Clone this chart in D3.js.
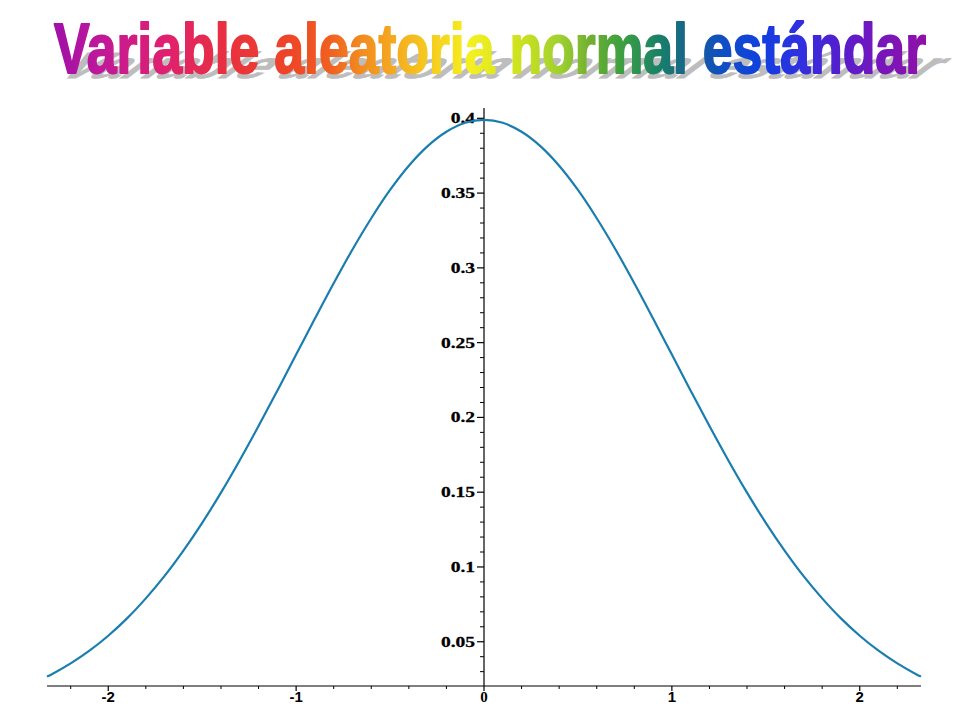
<!DOCTYPE html>
<html><head><meta charset="utf-8">
<script src="https://cdn.jsdelivr.net/npm/d3@7"></script>
<style>html,body{margin:0;padding:0;background:#fff;}svg{display:block;}</style>
</head><body>
<svg id="chart" width="960" height="720"></svg>
<script>
const titleText = "Variable aleatoria normal estándar";
// curve samples (x, density)
const xs = [-2.326,-2.3,-2.2,-2.1,-2.0,-1.9,-1.8,-1.7,-1.6,-1.5,-1.4,-1.3,-1.2,-1.1,-1.0,-0.9,-0.8,-0.7,-0.6,-0.5,-0.4,-0.3,-0.2,-0.1,0,
            0.1,0.2,0.3,0.4,0.5,0.6,0.7,0.8,0.9,1.0,1.1,1.2,1.3,1.4,1.5,1.6,1.7,1.8,1.9,2.0,2.1,2.2,2.3,2.326];
const ys = [0.0267,0.0283,0.0355,0.0440,0.0540,0.0656,0.0790,0.0940,0.1109,0.1295,0.1497,0.1714,0.1942,0.2179,0.2420,0.2661,0.2897,0.3123,0.3332,0.3521,0.3683,0.3814,0.3910,0.3970,0.3989,
            0.3970,0.3910,0.3814,0.3683,0.3521,0.3332,0.3123,0.2897,0.2661,0.2420,0.2179,0.1942,0.1714,0.1497,0.1295,0.1109,0.0940,0.0790,0.0656,0.0540,0.0440,0.0355,0.0283,0.0267];
const xTicks = [-2,-1,0,1,2];
const xTickLabels = ["-2","-1","0","1","2"];
const yTicks = [0.05,0.1,0.15,0.2,0.25,0.3,0.35,0.4];
const yTickLabels = ["0.05","0.1","0.15","0.2","0.25","0.3","0.35","0.4"];
const gradStops = [
  [55,"#a010a8"],[100,"#c0189a"],[165,"#e02070"],[225,"#e83040"],[290,"#ee4628"],[330,"#f06020"],
  [360,"#f28a20"],[400,"#f5b020"],[470,"#f5f020"],[525,"#c8e020"],[560,"#a0d030"],[590,"#70b030"],
  [620,"#40a040"],[660,"#188068"],[690,"#186090"],[720,"#1050c0"],[760,"#1040e0"],[800,"#3030e0"],
  [835,"#5020d0"],[870,"#7018c0"],[925,"#9010a8"]
];

const svg = d3.select("#chart");
const x = d3.scaleLinear().domain([-2.326, 2.326]).range([47, 921]);
const y = d3.scaleLinear().domain([0.0204, 0.4069]).range([686, 108]);

// Title (font sized so its natural width fits, then stretched vertically)
const tx0 = 54, tx1 = 926, tBase = 73;
const fs = 47, vStretch = 70 / 47;
const defs = svg.append("defs");
const grad = defs.append("linearGradient").attr("id","rainbow")
  .attr("gradientUnits","userSpaceOnUse").attr("x1",tx0).attr("x2",tx1).attr("y1",0).attr("y2",0);
grad.selectAll("stop").data(gradStops).join("stop")
  .attr("offset", d => ((d[0]-tx0)/(tx1-tx0)))
  .attr("stop-color", d => d[1]);

svg.append("text")
  .attr("aria-hidden","true")
  .attr("transform", `translate(0,${tBase+5}) skewX(-53) scale(1,${0.52*vStretch})`)
  .attr("x", tx0).attr("y", 0)
  .attr("textLength", tx1-tx0).attr("lengthAdjust","spacingAndGlyphs")
  .attr("font-family","Liberation Sans, Arial, sans-serif").attr("font-weight","bold")
  .attr("font-size",fs).attr("fill","#bdbdbd").attr("stroke","#bdbdbd").attr("stroke-width",1.2)
  .text(titleText);
svg.append("text")
  .attr("transform", `translate(0,${tBase}) scale(1,${vStretch})`)
  .attr("x", tx0).attr("y", 0)
  .attr("textLength", tx1-tx0).attr("lengthAdjust","spacingAndGlyphs")
  .attr("font-family","Liberation Sans, Arial, sans-serif").attr("font-weight","bold")
  .attr("font-size",fs).attr("fill","url(#rainbow)")
  .attr("stroke","url(#rainbow)").attr("stroke-width",1.3).attr("stroke-linejoin","round")
  .text(titleText);

// Axes
const x0 = x(0), yAxisY = y.range()[0];
svg.append("line").attr("x1",x.range()[0]).attr("x2",x.range()[1]).attr("y1",yAxisY).attr("y2",yAxisY)
  .attr("stroke","#000").attr("stroke-width",1.2);
svg.append("line").attr("x1",x0).attr("x2",x0).attr("y1",y.range()[0]).attr("y2",y.range()[1])
  .attr("stroke","#000").attr("stroke-width",1.2);

// x minor ticks
const xMinor = d3.range(-23, 24).map(i => i/10).filter(v => Math.abs(v*5 - Math.round(v*5))<1e-9 && v!==0 && !xTicks.includes(v));
svg.selectAll(".xminor").data(xMinor).join("line")
  .attr("x1",d=>x(d)).attr("x2",d=>x(d)).attr("y1",yAxisY).attr("y2",yAxisY+3)
  .attr("stroke","#000").attr("stroke-width",1);
svg.selectAll(".xmajor").data(xTicks).join("line")
  .attr("x1",d=>x(d)).attr("x2",d=>x(d)).attr("y1",yAxisY).attr("y2",yAxisY+5)
  .attr("stroke","#000").attr("stroke-width",1.2);
svg.selectAll(".xlab").data(xTicks).join("text")
  .attr("x",d=>x(d)).attr("y",yAxisY+16)
  .attr("text-anchor","middle")
  .attr("font-family",(d)=> d===0 ? "Liberation Serif, serif" : "Liberation Sans, Arial, sans-serif")
  .attr("font-weight","bold").attr("font-size",15).attr("fill","#000")
  .text((d,i)=>xTickLabels[i]);

// y minor ticks
const yMinor = d3.range(3, 41).map(i => i/100).filter(v => !yTicks.some(t => Math.abs(t-v)<1e-9));
svg.selectAll(".yminor").data(yMinor).join("line")
  .attr("x1",x0-4).attr("x2",x0).attr("y1",d=>y(d)).attr("y2",d=>y(d))
  .attr("stroke","#000").attr("stroke-width",1);
svg.selectAll(".ymajor").data(yTicks).join("line")
  .attr("x1",x0-7).attr("x2",x0).attr("y1",d=>y(d)).attr("y2",d=>y(d))
  .attr("stroke","#000").attr("stroke-width",1.2);
svg.selectAll(".ylab").data(yTicks).join("g")
  .attr("transform",d=>`translate(${x0-9},${y(d)+5}) scale(1.3,1)`)
  .append("text").attr("x",0).attr("y",0).attr("text-anchor","end")
  .attr("font-family","Liberation Serif, serif").attr("font-weight","bold")
  .attr("font-size",15).attr("fill","#000").attr("stroke","#000").attr("stroke-width",0.3)
  .text((d,i)=>yTickLabels[i]);

// Curve
const pts = xs.map((v,i)=>[v, ys[i]]);
svg.append("path").datum(pts)
  .attr("d", d3.line().x(d=>x(d[0])).y(d=>y(d[1])).curve(d3.curveCatmullRom))
  .attr("fill","none").attr("stroke","#1a7db0").attr("stroke-width",2.2);
</script>
</body></html>
